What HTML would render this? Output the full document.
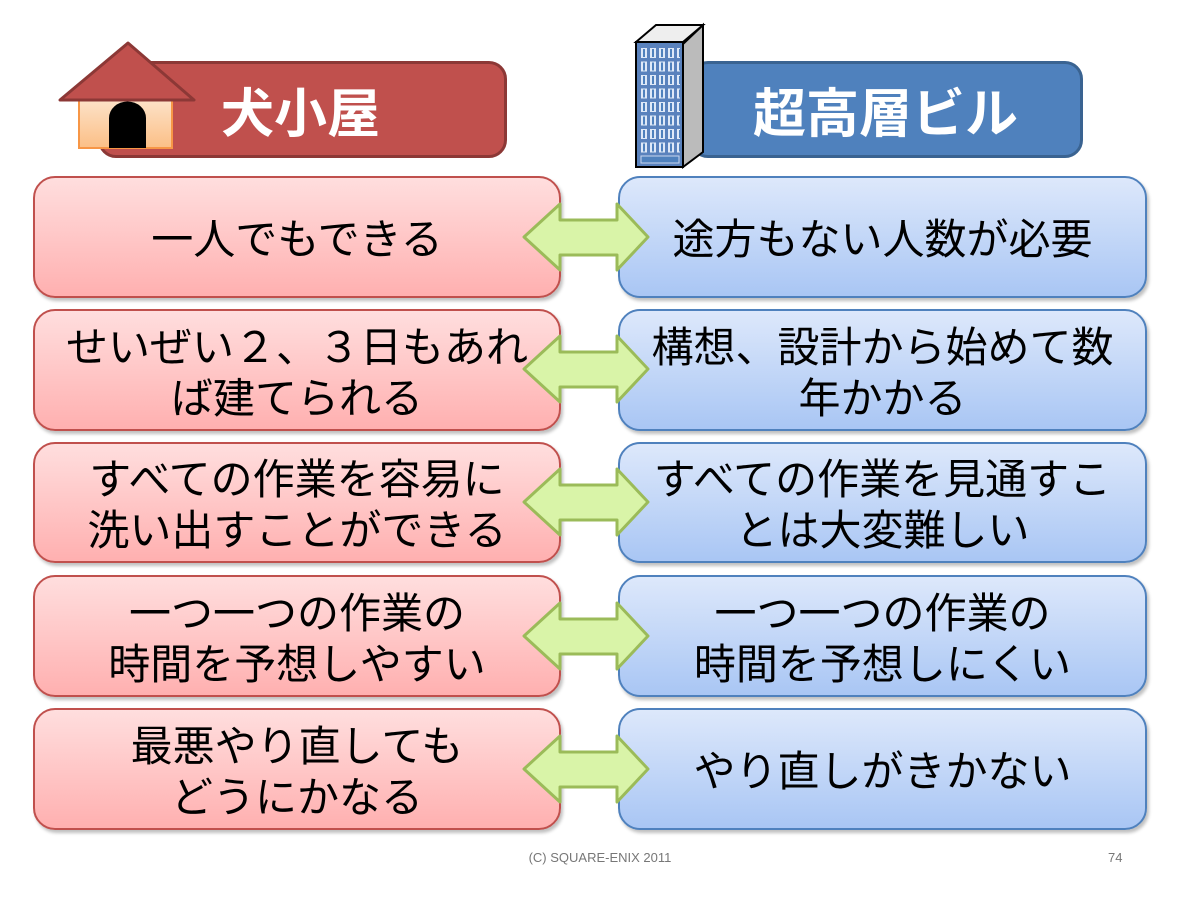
<!DOCTYPE html>
<html><head><meta charset="utf-8"><style>
body{margin:0;width:1200px;height:900px;background:#fff;position:relative;overflow:hidden;font-family:"Liberation Sans","Noto Sans CJK JP",sans-serif}
.b{position:absolute;box-sizing:border-box;border-radius:22px;display:flex;align-items:center;justify-content:center;text-align:center;font-size:42px;line-height:51px;padding-top:5px;color:#000;box-shadow:2px 3px 3px rgba(0,0,0,.25);white-space:nowrap;letter-spacing:0}
.l{left:33px;width:528px;border:2px solid #c0504d;background:linear-gradient(#ffdede,#ffb0b0)}
.r{left:618px;width:529px;border:2px solid #4f81bd;background:linear-gradient(#dde8fb,#a9c6f4)}
.h{position:absolute;top:61px;height:97px;border-radius:18px;color:#fff;font-weight:bold;font-size:53px;display:flex;align-items:center;box-sizing:border-box}
svg{position:absolute;left:0;top:0}
</style></head><body>
<div class="h" style="left:98px;width:409px;background:#c0504d;border:3px solid #8c3836;padding-left:120px">犬小屋</div>
<div class="h" style="left:690px;width:393px;background:#4f81bd;border:3px solid #3a6391;padding-left:60px">超高層ビル</div>
<svg width="1200" height="900">
<defs><linearGradient id="w" x1="0" y1="0" x2="0" y2="1"><stop offset="0" stop-color="#fde2c8"/><stop offset="1" stop-color="#fbbf86"/></linearGradient>
<pattern id="win" x="640" y="47" width="9" height="13.5" patternUnits="userSpaceOnUse"><rect x="1" y="1" width="6" height="10" fill="#dfe9f8"/><rect x="3" y="2" width="2" height="8" fill="#4f81bd"/></pattern></defs>
<rect x="79" y="100" width="93" height="48" fill="url(#w)" stroke="#f79646" stroke-width="2"/>
<path d="M109 148 V118 a18 16 0 0 1 37 0 V148Z" fill="#000"/>
<polygon points="60,100 128,43 194,100" fill="#c0504d" stroke="#8c3836" stroke-width="3" stroke-linejoin="round"/>
<polygon points="683,44 703,25 703,152 683,167" fill="#bbb" stroke="#000" stroke-width="2"/>
<polygon points="636,42 656,25 703,25 683,42" fill="#eee" stroke="#000" stroke-width="2"/>
<rect x="636" y="42" width="47" height="125" fill="#5a82bd" stroke="#000" stroke-width="2"/>
<rect x="640" y="47" width="40" height="108" fill="url(#win)"/>
<rect x="641" y="156" width="38" height="7" fill="#4f81bd" stroke="#c8d6ee" stroke-width="1"/>
</svg>
<div class="b l" style="top:176px;height:122px">一人でもできる</div>
<div class="b l" style="top:309px;height:122px">せいぜい２、３日もあれ<br>ば建てられる</div>
<div class="b l" style="top:442px;height:121px">すべての作業を容易に<br>洗い出すことができる</div>
<div class="b l" style="top:575px;height:122px">一つ一つの作業の<br>時間を予想しやすい</div>
<div class="b l" style="top:708px;height:122px">最悪やり直しても<br>どうにかなる</div>
<div class="b r" style="top:176px;height:122px">途方もない人数が必要</div>
<div class="b r" style="top:309px;height:122px">構想、設計から始めて数<br>年かかる</div>
<div class="b r" style="top:442px;height:121px">すべての作業を見通すこ<br>とは大変難しい</div>
<div class="b r" style="top:575px;height:122px">一つ一つの作業の<br>時間を予想しにくい</div>
<div class="b r" style="top:708px;height:122px">やり直しがきかない</div>
<svg width="1200" height="900" style="pointer-events:none">
<g fill="#d9f4a8" stroke="#9bbb59" stroke-width="3" stroke-linejoin="round">
<polygon points="524,237 560,204 560,220 617,220 617,204 648,237 617,270 617,255 560,255 560,270"/>
<polygon points="524,369 560,336 560,352 617,352 617,336 648,369 617,402 617,387 560,387 560,402"/>
<polygon points="524,502 560,469 560,485 617,485 617,469 648,502 617,535 617,520 560,520 560,535"/>
<polygon points="524,636 560,603 560,619 617,619 617,603 648,636 617,669 617,654 560,654 560,669"/>
<polygon points="524,769 560,736 560,752 617,752 617,736 648,769 617,802 617,787 560,787 560,802"/>
</g>
</svg>
<div style="position:absolute;left:0;width:1200px;top:850px;text-align:center;font-size:13px;color:#777">(C) SQUARE-ENIX 2011</div>
<div style="position:absolute;left:1108px;top:850px;font-size:13px;color:#777">74</div>
</body></html>
